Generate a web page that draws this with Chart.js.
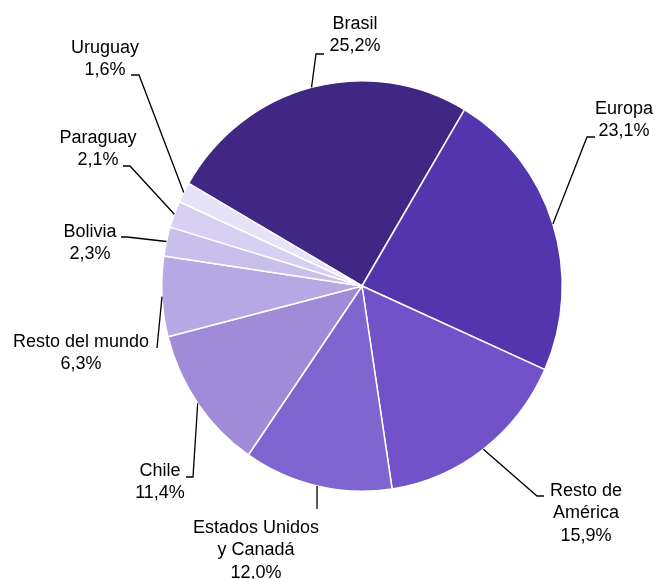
<!DOCTYPE html>
<html>
<head>
<meta charset="utf-8">
<script src="https://cdn.jsdelivr.net/npm/chart.js@4/dist/chart.umd.min.js"></script>
<style>
  html, body { margin: 0; padding: 0; background: #fff; }
  #wrap { width: 656px; height: 579px; }
</style>
</head>
<body>
<div id="wrap"><canvas id="chart" width="656" height="579"></canvas></div>
<script>
const CATEGORIES = ['Brasil', 'Europa', 'Resto de América', 'Estados Unidos y Canadá', 'Chile',
                    'Resto del mundo', 'Bolivia', 'Paraguay', 'Uruguay'];
const VALUES = [25.2, 23.1, 15.9, 12.0, 11.4, 6.3, 2.3, 2.1, 1.6];
const LABEL_LINES = [
    ['Brasil'],
    ['Europa'],
    ['Resto de', 'América'],
    ['Estados Unidos', 'y Canadá'],
    ['Chile'],
    ['Resto del mundo'],
    ['Bolivia'],
    ['Paraguay'],
    ['Uruguay']
];
const COLORS = ['#3f2783', '#5336ad', '#7152c9', '#7f65cf', '#a08bd9',
                '#b5a8e4', '#c8bfed', '#d7d0f2', '#e6e2f7'];

// where each label sits: text centre (first line), elbow of the leader, end of the short tick
const LABEL_LAYOUT = [
    { tx: 355, ty: 24,  ex: 316, ey: 54,  kx: 324 },
    { tx: 624, ty: 109, ex: 587, ey: 137, kx: 595 },
    { tx: 586, ty: 491, ex: 537, ey: 496, kx: 544 },
    { tx: 256, ty: 528, ex: 317, ey: 509, kx: 317 },
    { tx: 160, ty: 471, ex: 193, ey: 477, kx: 186 },
    { tx: 81,  ty: 342, ex: 157, ey: 348, kx: 157 },
    { tx: 90,  ty: 232, ex: 127, ey: 237, kx: 121 },
    { tx: 98,  ty: 138, ex: 130, ey: 166, kx: 123 },
    { tx: 105, ty: 48,  ex: 139, ey: 75,  kx: 131 }
];
const LINE_HEIGHT = 22.5;
const Y_STRETCH = 1.025; // the original pie is a touch taller than wide

function fmtPct(v) {
    return v.toFixed(1).replace('.', ',') + '%';
}

const leaderLabels = {
    id: 'leaderLabels',
    beforeDatasetsDraw(chart) {
        const ctx = chart.ctx;
        const a = chart.chartArea;
        const cy = (a.top + a.bottom) / 2;
        ctx.save();
        ctx.translate(0, cy);
        ctx.scale(1, Y_STRETCH);
        ctx.translate(0, -cy);
    },
    afterDatasetsDraw(chart) {
        const ctx = chart.ctx;
        ctx.restore();
        const arcs = chart.getDatasetMeta(0).data;
        ctx.save();
        arcs.forEach((arc, i) => {
            const p = arc.getProps(['x', 'y', 'startAngle', 'endAngle', 'outerRadius'], true);
            const mid = (p.startAngle + p.endAngle) / 2;
            const sx = p.x + Math.cos(mid) * p.outerRadius;
            const sy = p.y + Math.sin(mid) * p.outerRadius * Y_STRETCH;
            const lay = LABEL_LAYOUT[i];

            ctx.strokeStyle = '#000';
            ctx.lineWidth = 1.3;
            ctx.beginPath();
            ctx.moveTo(sx, sy);
            ctx.lineTo(lay.ex, lay.ey);
            ctx.lineTo(lay.kx, lay.ey);
            ctx.stroke();

            const lines = LABEL_LINES[i].concat([fmtPct(VALUES[i])]);
            ctx.fillStyle = '#000';
            ctx.font = '18px "Liberation Sans", Arial, sans-serif';
            ctx.textAlign = 'center';
            ctx.textBaseline = 'middle';
            lines.forEach((t, j) => ctx.fillText(t, lay.tx, lay.ty + j * LINE_HEIGHT));
        });
        ctx.restore();
    }
};

new Chart(document.getElementById('chart'), {
    type: 'pie',
    data: {
        labels: CATEGORIES,
        datasets: [{
            data: VALUES,
            backgroundColor: COLORS,
            borderColor: '#fff',
            borderWidth: 1.5
        }]
    },
    options: {
        responsive: false,
        animation: false,
        rotation: -60,
        layout: { padding: { top: 85, bottom: 92, left: 161, right: 93 } },
        plugins: {
            legend: { display: false },
            tooltip: { enabled: false }
        }
    },
    plugins: [leaderLabels]
});
</script>
</body>
</html>
